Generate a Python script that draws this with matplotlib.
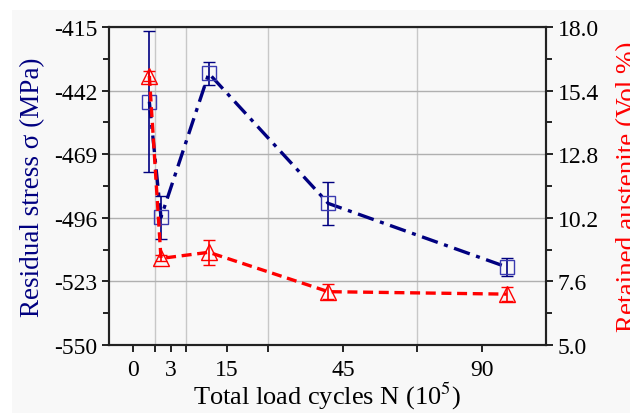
import numpy as np
import matplotlib.pyplot as plt
from matplotlib.scale import FuncScale
from matplotlib.patches import Rectangle

plt.rcParams['font.family'] = ['Liberation Serif', 'DejaVu Serif']
plt.rcParams['mathtext.fontset'] = 'stix'

# data
N = [1.29, 2.21, 11.1, 41.2, 98.0]
stress = [-446.7, -495.8, -434.7, -489.9, -516.9]
stress_err = [30.0, 9.0, 5.0, 9.0, 4.0]
austenite = [16.0, 8.54, 8.79, 7.18, 7.08]
austenite_err = [0.2, 0.12, 0.5, 0.3, 0.3]

xticks = [0, 3, 15, 45, 90]
xgrid = [1.74, 6.15, 25.6, 69.1]
ticks_left = [-550, -523, -496, -469, -442, -415]
ticks_right = [5.0, 7.6, 10.2, 12.8, 15.4, 18.0]

# uneven x axis of the original, piecewise linear
anchor_v = [-1.9, 0, 3, 15, 45, 90, 110.7]
anchor_p = [109, 133, 171, 227, 343, 482, 546]
def fwd(v):
    return np.interp(v, anchor_v, anchor_p)
def inv(p):
    return np.interp(p, anchor_p, anchor_v)

bg = '#f8f8f8'
fig = plt.figure(figsize=(6.3, 4.14), dpi=100, facecolor='white')
fig.patches.append(Rectangle((12/630, 0), 1, 1-11/414, transform=fig.transFigure,
                             facecolor=bg, edgecolor='none', zorder=-10))
ax = fig.add_axes([109/630, 1-346/414, 437/630, 318/414])
ax.set_facecolor(bg)
ax.set_xscale(FuncScale(ax, (fwd, inv)))
ax.set_xlim(-1.9, 110.7)
ax.set_ylim(-550, -415)

navy = '#000080'
ax.errorbar(N, stress, yerr=stress_err, color=navy, ls=(0, (5, 2, 1.2, 2)), lw=2.4,
            marker='s', ms=9.5, mfc='none', mec='#3a3ab0', mew=1,
            ecolor=navy, elinewidth=1.2, capsize=4, capthick=1.2, zorder=3)

ax.set_xticks(xticks)
ax.set_xticks(xgrid, minor=True)
ax.set_xticklabels([str(t) for t in xticks])
ax.tick_params(axis='x', which='minor', labelbottom=False)
ax.grid(True, axis='x', which='minor', color='#c8c8c8', lw=1)
ax.set_yticks(ticks_left)
ax.set_yticks(np.arange(-550, -414, 13.5), minor=True)
ax.set_yticklabels([str(t) for t in ticks_left])
ax.grid(True, axis='y', which='major', color='#b0b0b0', lw=1)
ax.set_axisbelow(True)
ax.tick_params(which='both', direction='out', width=1.2, labelsize=17)
ax.tick_params(which='major', length=5)
ax.tick_params(which='minor', length=4)
ax.tick_params(axis='x', which='both', length=5, pad=5)
ax.set_xlabel('Total load cycles N (10$^5$)', fontsize=19, labelpad=0)
ax.set_ylabel('Residual stress σ (MPa)', fontsize=19.5, color=navy, labelpad=6)

ax2 = ax.twinx()
ax2.set_ylim(5.0, 18.0)
ax2.errorbar(N, austenite, yerr=austenite_err, color='red', ls=(0, (3, 1.7)), lw=2.4,
             marker='^', ms=11.5, mfc='none', mec='red', mew=1,
             ecolor='red', elinewidth=1.2, capsize=4, capthick=1.2, zorder=3)
ax2.set_yticks(ticks_right)
ax2.set_yticks(np.arange(5.0, 18.01, 1.3), minor=True)
ax2.set_yticklabels(['%.1f' % t for t in ticks_right])
ax2.tick_params(which='both', direction='out', width=1.2, labelsize=17)
ax2.tick_params(which='major', length=5)
ax2.tick_params(which='minor', length=4)
# the reference cuts this label at the right edge too
ax2.set_ylabel('Retained austenite (Vol %)', fontsize=19.5, color='red', labelpad=12)

for a in (ax, ax2):
    for s in a.spines.values():
        s.set_linewidth(1.5)
        s.set_color('#222222')

fig.savefig('out.png', dpi=100, facecolor=fig.get_facecolor())
